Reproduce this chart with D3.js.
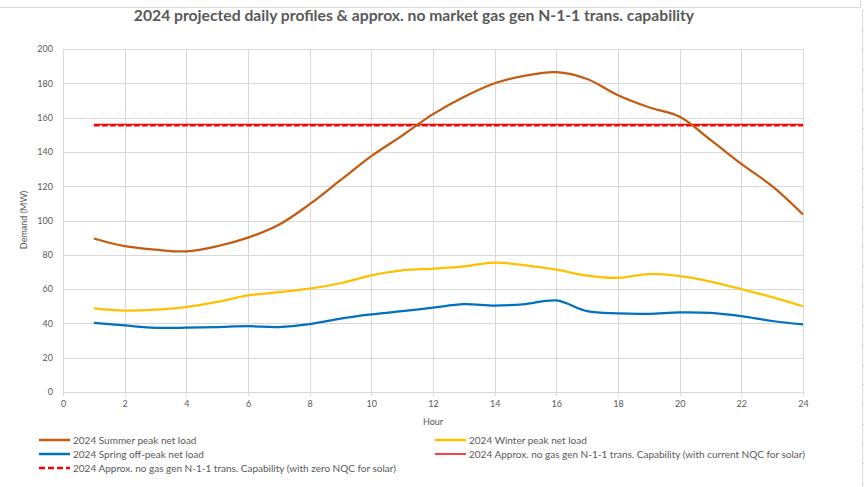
<!DOCTYPE html>
<html>
<head>
<meta charset="utf-8">
<script src="https://cdn.jsdelivr.net/npm/d3@7/dist/d3.min.js"></script>
<style>
  html, body { margin: 0; padding: 0; background: #fff; }
  svg { display: block; }
  text { font-family: Lato, "Liberation Sans", sans-serif; fill: #595959; }
</style>
</head>
<body>
<svg id="chart" width="864" height="487"></svg>
<script>
// ---------- DATA ----------
const hours = [1,2,3,4,5,6,7,8,9,10,11,12,13,14,15,16,17,18,19,20,21,22,23,24];
const summerPeak = [89.5,85,83,82,85,90,97.5,109.5,123.5,137.5,149.5,162,172,180,184.5,186.5,182.5,173,166,160.5,147,133,120,103.5];
const winterPeak = [48.7,47.4,48,49.5,52.5,56.3,58.2,60.3,63.4,68,70.9,71.9,73.2,75.5,73.8,71.3,67.8,66.5,68.8,67.6,64.4,60,55.3,50];
const springOffPeak = [40.3,38.8,37.4,37.5,37.9,38.4,37.9,39.6,42.8,45.2,47.1,49.2,51.2,50.4,51.3,53.4,47.1,45.8,45.6,46.4,46.1,44.2,41.4,39.4];
const capCurrentNQC = hours.map(() => 156);
const capZeroNQC = hours.map(() => 155.6);
const xTicks = [0,2,4,6,8,10,12,14,16,18,20,22,24];
const yTicks = [0,20,40,60,80,100,120,140,160,180,200];
const seriesNames = [
  "2024 Summer peak net load",
  "2024 Winter peak net load",
  "2024 Spring off-peak net load",
  "2024 Approx. no gas gen N-1-1 trans. Capability (with current NQC for solar)",
  "2024 Approx. no gas gen N-1-1 trans. Capability (with zero NQC for solar)"
];
const titleText = "2024 projected daily profiles & approx. no market gas gen N-1-1 trans. capability";

// ---------- CHART ----------
const svg = d3.select("#chart");
const W = 864, H = 487;
const x = d3.scaleLinear().domain([0, 24]).range([63, 803]);
const y = d3.scaleLinear().domain([0, 200]).range([392, 49]);

// outer frame (spreadsheet chart border)
const frame = svg.append("g").attr("stroke", "#d9d9d9").attr("fill", "none");
frame.append("line").attr("x1", 0).attr("x2", 860).attr("y1", 7.5).attr("y2", 7.5);
frame.append("line").attr("x1", 860.5).attr("x2", 860.5).attr("y1", 0).attr("y2", 7.5);
frame.append("line").attr("x1", 862.5).attr("x2", 862.5).attr("y1", 10).attr("y2", H);
d3.range(10, H, 19.7).forEach(v => {
  frame.append("line").attr("x1", 862).attr("x2", 864).attr("y1", Math.round(v) + 0.5).attr("y2", Math.round(v) + 0.5);
});

// title
svg.append("text")
  .attr("x", 414).attr("y", 21)
  .attr("text-anchor", "middle")
  .style("font-weight", "bold")
  .style("font-size", "15.7px")
  .text(titleText);

// grid
const grid = svg.append("g").attr("stroke", "#d9d9d9").attr("stroke-width", 1);
yTicks.forEach(t => {
  grid.append("line").attr("x1", x(0)).attr("x2", x(24))
    .attr("y1", Math.round(y(t)) + 0.5).attr("y2", Math.round(y(t)) + 0.5);
});
xTicks.forEach(t => {
  grid.append("line").attr("x1", Math.round(x(t)) + 0.5).attr("x2", Math.round(x(t)) + 0.5)
    .attr("y1", y(200)).attr("y2", y(0) + 4);
});

// axes (labels only, via d3 axes)
const xAxis = d3.axisBottom(x).tickValues(xTicks).tickSize(0).tickPadding(9);
const gx = svg.append("g").attr("transform", `translate(0,${Math.round(y(0))})`).call(xAxis);
gx.select(".domain").remove();
gx.selectAll("text").style("font-size", "9px").attr("fill", "#595959");

const yAxis = d3.axisLeft(y).tickValues(yTicks).tickSize(0).tickPadding(10);
const gy = svg.append("g").attr("transform", `translate(${x(0)},0)`).call(yAxis);
gy.select(".domain").remove();
gy.selectAll("text").style("font-size", "9px").attr("fill", "#595959");

// axis titles
svg.append("text").attr("x", 433).attr("y", 425).attr("text-anchor", "middle")
  .style("font-size", "9px").text("Hour");
svg.append("text").attr("transform", "translate(27,220) rotate(-90)").attr("text-anchor", "middle")
  .style("font-size", "9px").text("Demand (MW)");

// lines
const smooth = d3.line().x((d, i) => x(hours[i])).y(d => y(d)).curve(d3.curveCatmullRom.alpha(0.5));
const straight = d3.line().x((d, i) => x(hours[i])).y(d => y(d));

const styles = [
  { data: summerPeak, color: "#C55A11", width: 2.25, dash: null, gen: smooth },
  { data: winterPeak, color: "#FFC000", width: 2.25, dash: null, gen: smooth },
  { data: springOffPeak, color: "#0070C0", width: 2.25, dash: null, gen: smooth },
  { data: capCurrentNQC, color: "#FF0000", width: 1.25, dash: null, gen: straight },
  { data: capZeroNQC, color: "#FF0000", width: 2.5, dash: "6,2", gen: straight }
];

const order = [4, 3, 2, 1, 0];
order.forEach(i => {
  const s = styles[i];
  svg.append("path").datum(s.data)
    .attr("fill", "none")
    .attr("stroke", s.color)
    .attr("stroke-width", s.width)
    .attr("stroke-dasharray", s.dash)
    .attr("stroke-linejoin", "round")
    .attr("d", s.gen);
});

// legend
const legendPos = [
  { lx: 39, ly: 440 },
  { lx: 435, ly: 440 },
  { lx: 39, ly: 454 },
  { lx: 435, ly: 454 },
  { lx: 39, ly: 468 }
];
const lg = svg.append("g");
seriesNames.forEach((name, i) => {
  const p = legendPos[i], s = styles[i];
  lg.append("line").attr("x1", p.lx).attr("x2", p.lx + 31).attr("y1", p.ly).attr("y2", p.ly)
    .attr("stroke", s.color)
    .attr("stroke-width", i === 3 ? 1.5 : 2.5)
    .attr("stroke-dasharray", i === 4 ? "6,3" : null);
  lg.append("text").attr("x", p.lx + 34).attr("y", p.ly + 3.5)
    .style("font-size", "10px").text(name);
});
</script>
</body>
</html>
